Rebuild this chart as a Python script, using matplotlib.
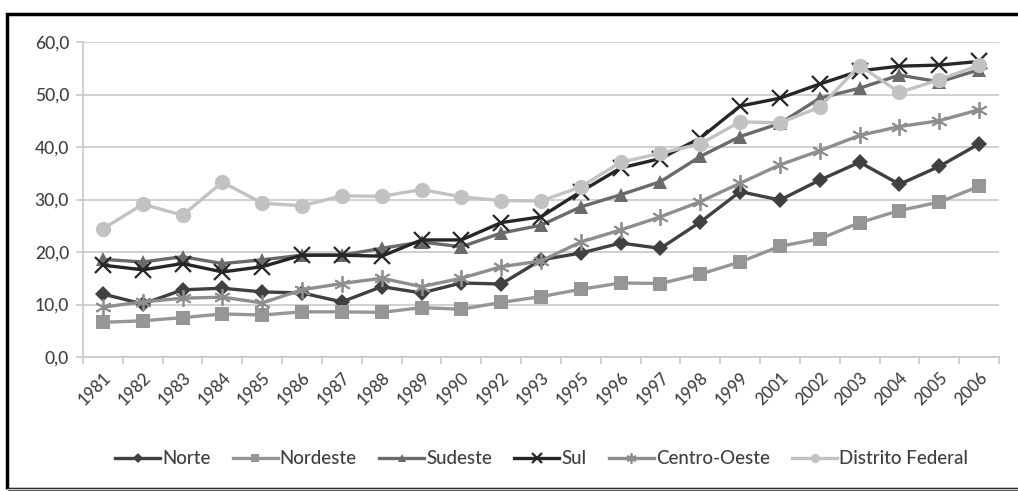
import numpy as np
import matplotlib.pyplot as plt
from matplotlib.patches import Rectangle

# --- DATA ---
years = ["1981", "1982", "1983", "1984", "1985", "1986", "1987", "1988", "1989", "1990",
         "1992", "1993", "1995", "1996", "1997", "1998", "1999", "2001", "2002", "2003",
         "2004", "2005", "2006"]

norte = [12.0, 10.1, 12.8, 13.1, 12.4, 12.2, 10.5, 13.4, 12.2, 14.1, 13.9, 18.5,
         19.8, 21.7, 20.7, 25.7, 31.5, 29.9, 33.7, 37.1, 32.9, 36.3, 40.6]
nordeste = [6.6, 6.9, 7.5, 8.2, 8.0, 8.6, 8.6, 8.5, 9.4, 9.1, 10.4, 11.5,
            12.9, 14.1, 14.0, 15.8, 18.1, 21.1, 22.5, 25.6, 27.9, 29.5, 32.5]
sudeste = [18.6, 18.1, 19.1, 17.8, 18.5, 19.4, 19.4, 20.7, 21.9, 21.0, 23.6, 25.1,
           28.6, 30.9, 33.4, 38.2, 42.0, 44.5, 49.3, 51.2, 53.7, 52.4, 54.7]
sul = [17.5, 16.6, 17.8, 16.2, 17.2, 19.4, 19.4, 19.2, 22.3, 22.3, 25.6, 26.7,
       31.5, 36.0, 37.8, 41.7, 47.8, 49.3, 52.0, 54.5, 55.4, 55.6, 56.3]
centro_oeste = [9.5, 10.5, 11.2, 11.4, 10.3, 12.8, 14.0, 15.0, 13.4, 15.0, 17.2, 18.3,
                21.9, 24.2, 26.7, 29.6, 33.1, 36.6, 39.3, 42.2, 43.9, 45.0, 47.1]
distrito_federal = [24.4, 29.1, 27.0, 33.3, 29.3, 28.8, 30.7, 30.6, 31.9, 30.5, 29.8, 29.7,
                    32.4, 37.1, 38.8, 40.6, 44.8, 44.6, 47.6, 55.5, 50.4, 52.8, 55.6]

series_names = ["Norte", "Nordeste", "Sudeste", "Sul", "Centro-Oeste", "Distrito Federal"]

# --- STYLING ---
FONT = ["Lato", "DejaVu Sans"]
TEXT_COLOR = "#404040"
GRID_COLOR = "#c8c8c8"
styles = [
    dict(color="#404040", marker="D", ms=8, mew=0),
    dict(color="#969696", marker="s", ms=9.5, mew=0),
    dict(color="#6a6a6a", marker="^", ms=10, mew=0),
    dict(color="#262626", marker="x", ms=11, mew=1.6),
    dict(color="#8e8e8e", marker=(6, 2, 0), ms=12, mew=1.3),
    dict(color="#c2c2c2", marker="o", ms=11, mew=0),
]

plt.rcParams['font.family'] = FONT

fig = plt.figure(figsize=(10.18, 4.91), dpi=100)
ax = fig.add_axes([83 / 1018, 1 - 357 / 491, 916 / 1018, 315 / 491])

x = np.arange(len(years))
all_series = [norte, nordeste, sudeste, sul, centro_oeste, distrito_federal]
for name, vals, st in zip(series_names, all_series, styles):
    ax.plot(x, vals, color=st["color"], lw=2.4, marker=st["marker"],
            markersize=st["ms"], markeredgewidth=st["mew"],
            markeredgecolor=st["color"], markerfacecolor=st["color"], label=name)

ax.set_xlim(-0.5, len(years) - 0.5)
ax.set_ylim(0, 60)
ax.set_yticks(np.arange(0, 61, 10))
ax.set_yticklabels([f"{v:.1f}".replace(".", ",") for v in np.arange(0, 61, 10)],
                   fontsize=12.5, color=TEXT_COLOR, fontweight="medium")
ax.yaxis.grid(True, color=GRID_COLOR, lw=1.2)
ax.set_axisbelow(True)

# category labels at centers, tick marks at boundaries
ax.set_xticks(x)
ax.set_xticklabels(years, rotation=45, ha="right", rotation_mode="anchor",
                   fontsize=12, color=TEXT_COLOR, fontweight="medium")
ax.tick_params(axis="x", length=0, pad=9)
ax.set_xticks(np.arange(-0.5, len(years), 1), minor=True)
ax.tick_params(axis="x", which="minor", length=5, color=GRID_COLOR, width=1.2)
ax.tick_params(axis="y", length=5, color=GRID_COLOR, width=1.2, pad=5)

for s in ["top", "right"]:
    ax.spines[s].set_visible(False)
for s in ["left", "bottom"]:
    ax.spines[s].set_color(GRID_COLOR)
    ax.spines[s].set_linewidth(1.2)

leg = fig.legend(loc="center", bbox_to_anchor=(0.532, 1 - 459 / 491), ncol=6,
                 frameon=False, fontsize=13.5, handlelength=2.4, handletextpad=0.1,
                 columnspacing=1.2, markerscale=0.6, prop={"weight": "medium", "size": 13.5})
for t in leg.get_texts():
    t.set_color(TEXT_COLOR)

# outer frame
fig.patches.append(Rectangle((7 / 1018, 2 / 491), 1.2, 1 - 16 / 491, transform=fig.transFigure,
                             fill=False, edgecolor="black", lw=2.5))
fig.patches.append(Rectangle((7 / 1018, 0), 1.2, 2 / 491, transform=fig.transFigure,
                             fill=False, edgecolor="#d0d0d0", lw=1))

fig.savefig("out.png", dpi=100)
